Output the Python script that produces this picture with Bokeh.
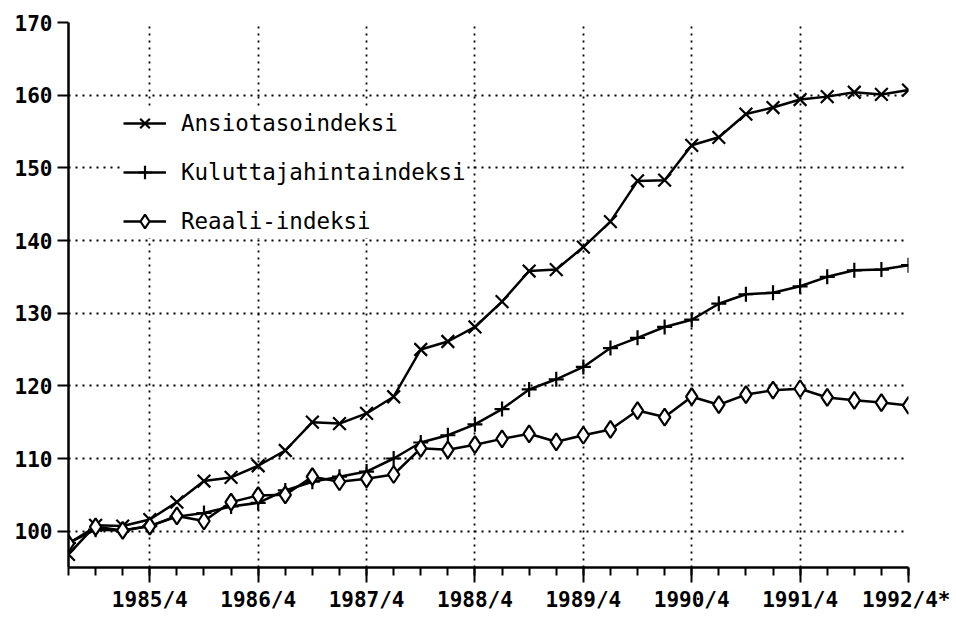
from bokeh.plotting import figure
from bokeh.models import FixedTicker, Legend, LegendItem, Range1d, ColumnDataSource
from bokeh.embed import file_html
from bokeh.resources import INLINE

# Quarterly data 1985/1 ... 1992/4 (index 0..31)
quarter_index = list(range(32))
year_ticks = [3, 7, 11, 15, 19, 23, 27, 31]
year_labels = ["1985/4", "1986/4", "1987/4", "1988/4", "1989/4", "1990/4", "1991/4", "1992/4*"]
y_ticks = [100, 110, 120, 130, 140, 150, 160, 170]

ansiotaso = [96.8, 100.8, 100.7, 101.6, 104.0, 106.9, 107.4, 109.0, 111.1, 115.0,
             114.8, 116.2, 118.5, 125.0, 126.1, 128.1, 131.6, 135.8, 136.0, 139.1,
             142.6, 148.2, 148.3, 153.1, 154.2, 157.4, 158.3, 159.4, 159.8, 160.4,
             160.1, 160.7]
kuluttaja = [98.4, 100.2, 100.1, 100.7, 102.0, 102.5, 103.4, 103.9, 105.6, 106.8,
             107.5, 108.2, 110.0, 112.2, 113.2, 114.7, 116.8, 119.5, 120.9, 122.6,
             125.2, 126.6, 128.1, 129.1, 131.3, 132.6, 132.8, 133.7, 135.0, 135.9,
             136.0, 136.6]
reaali = [98.3, 100.6, 100.1, 100.7, 102.1, 101.4, 104.0, 104.9, 105.0, 107.5,
          106.8, 107.2, 107.8, 111.4, 111.2, 111.9, 112.7, 113.4, 112.3, 113.2,
          114.0, 116.6, 115.7, 118.5, 117.4, 118.8, 119.4, 119.6, 118.4, 118.0,
          117.7, 117.3]

src = ColumnDataSource(dict(x=quarter_index, a=ansiotaso, k=kuluttaja, r=reaali))

FONT = "DejaVu Sans Mono"

p = figure(width=950, height=614, x_range=Range1d(0, 31), y_range=Range1d(95, 170),
           output_backend="svg", toolbar_location=None,
           min_border_left=68, min_border_right=42, min_border_top=22, min_border_bottom=42)
p.outline_line_color = None
p.background_fill_color = "white"

# Axes
for ax in (p.xaxis[0], p.yaxis[0]):
    ax.axis_line_width = 2.5
    ax.axis_line_color = "black"
    ax.major_tick_line_width = 2
    ax.major_tick_line_color = "black"
    ax.major_tick_in = 0
    ax.major_label_text_font = FONT
    ax.major_label_text_font_style = "bold"
    ax.major_label_text_font_size = "21px"
    ax.major_label_text_color = "black"

p.xaxis.ticker = FixedTicker(ticks=year_ticks, minor_ticks=quarter_index)
p.xaxis.major_label_overrides = {t: l for t, l in zip(year_ticks, year_labels)}
p.xaxis.major_tick_out = 15
p.xaxis.minor_tick_out = 8
p.xaxis.minor_tick_in = 0
p.xaxis.minor_tick_line_width = 2
p.xaxis.minor_tick_line_color = "black"
p.xaxis.major_label_standoff = 5

p.yaxis.ticker = FixedTicker(ticks=y_ticks)
p.yaxis.major_tick_out = 11
p.yaxis.minor_tick_line_color = None
p.yaxis.major_label_standoff = 5

# Grids
p.xgrid.ticker = FixedTicker(ticks=year_ticks)
p.ygrid.ticker = FixedTicker(ticks=y_ticks)
for g in (p.xgrid[0], p.ygrid[0]):
    g.grid_line_color = "black"
    g.grid_line_dash = "2 5"
    g.grid_line_width = 1.8
    g.grid_line_alpha = 1.0

# Series
l1 = p.line("x", "a", source=src, line_color="black", line_width=2.5)
s1 = p.scatter("x", "a", source=src, marker="x", size=18, line_color="black", line_width=2.2)
l2 = p.line("x", "k", source=src, line_color="black", line_width=2.5)
s2 = p.scatter("x", "k", source=src, marker="cross", size=15, line_color="black", line_width=2.2)
l3 = p.line("x", "r", source=src, line_color="black", line_width=2.5)
s3 = p.scatter("x", "r", source=src, marker="diamond", size=17, line_color="black",
               fill_color="white", line_width=2.2)

legend = Legend(items=[
    LegendItem(label="Ansiotasoindeksi", renderers=[l1, s1]),
    LegendItem(label="Kuluttajahintaindeksi", renderers=[l2, s2]),
    LegendItem(label="Reaali-indeksi", renderers=[l3, s3]),
], location=(55, 329))
legend.background_fill_color = "white"
legend.background_fill_alpha = 1.0
legend.border_line_color = None
legend.label_text_font = FONT
legend.label_text_font_size = "22.5px"
legend.label_text_color = "black"
legend.glyph_width = 43
legend.glyph_height = 34
legend.label_height = 34
legend.label_standoff = 15
legend.spacing = 15
legend.padding = 8
legend.margin = 0
p.add_layout(legend)

open("out.html", "w").write(file_html(p, INLINE))
